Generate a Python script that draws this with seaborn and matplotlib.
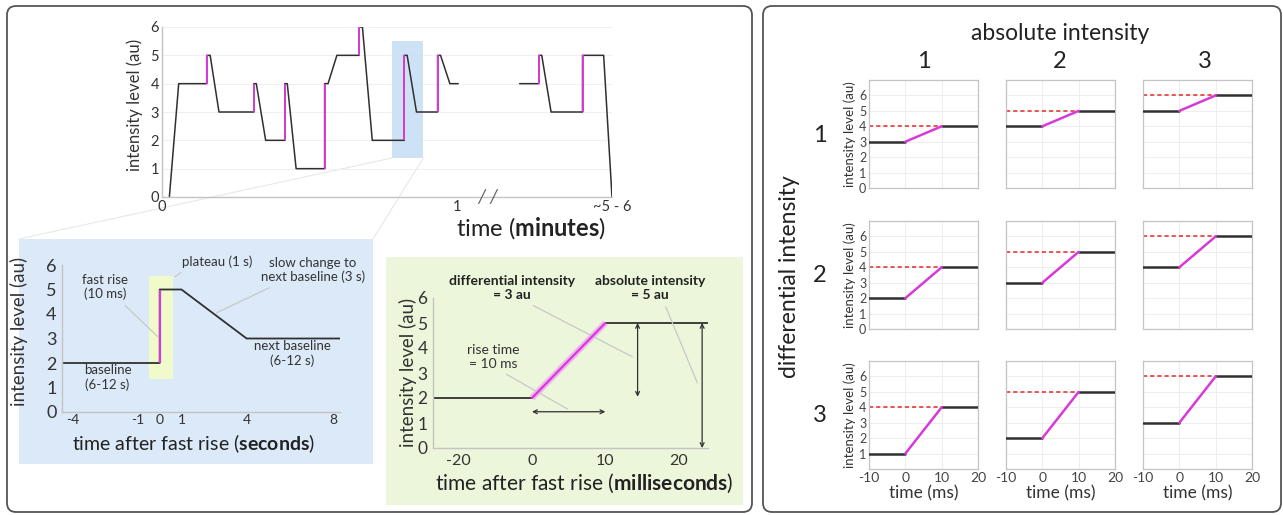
import numpy as np
import pandas as pd
import matplotlib
matplotlib.use("Agg")
import matplotlib.pyplot as plt
import seaborn as sns
from matplotlib.patches import FancyBboxPatch, Rectangle, ConnectionPatch

# ---------------- data ----------------
# overview trace, x in seconds (60 s = "1" minute), split at the axis break
trace1_t = [1.5, 3.4, 9.1, 9.1, 9.8, 11.6, 18.7, 18.7, 19.2, 21.1, 25.0, 25.0, 25.5, 27.3,
            33.1, 33.1, 33.8, 35.6, 40.1, 40.1, 40.8, 42.8, 49.3, 49.3, 49.9, 51.8,
            56.1, 56.1, 56.7, 58.6, 60.3]
trace1_y = [0, 4, 4, 5, 5, 3, 3, 4, 4, 2, 2, 4, 4, 1,
            1, 4, 4, 5, 5, 6, 6, 2, 2, 5, 5, 3,
            3, 5, 5, 4, 4]
trace2_t = [72.8, 76.7, 76.7, 77.3, 79.2, 85.6, 85.6, 89.9, 91.6]
trace2_y = [4, 4, 5, 5, 3, 3, 5, 5, 0]
rise_t = [9.1, 18.7, 25.0, 33.1, 40.1, 49.3, 56.1, 76.7, 85.6]
rise_from = [4, 3, 2, 1, 5, 2, 3, 4, 3]
rise_to = [5, 4, 4, 4, 6, 5, 5, 5, 5]
overview_ticks = [0, 60, 91.6]
overview_labels = ["0", "1", "~5 - 6"]
highlight_t = [46.9, 53.2]
highlight_y = [1.38, 5.5]

# one event, seconds
sec_t = [-4.5, 0, 0, 1, 4, 8.3]
sec_y = [2, 2, 5, 5, 3, 3]
sec_ticks = [-4, -1, 0, 1, 4, 8]
sec_rise_y = [2, 5]
sec_box_t = [-0.5, 0.6]
sec_box_y = [1.36, 5.55]

# one event, milliseconds
ms_t = [-27, 0, 10, 24]
ms_y = [2, 2, 5, 5]
ms_rise_t = [0, 10]
ms_rise_y = [2, 5]
ms_ticks = [-20, 0, 10, 20]

# grid of examples
absolute_levels = [4, 5, 6]
differential_levels = [1, 2, 3]
small_t = [-10, 0, 10, 20]

W, H = 1283, 515
BLACK = "#303030"
MAGENTA = "#d83ad8"
SPINE = "#c4c4c4"
LEAD = "#c8c8c8"

sns.set_theme(style="white")
plt.rcParams["font.family"] = ["Lato", "DejaVu Sans"]
plt.rcParams["mathtext.fontset"] = "custom"
plt.rcParams["mathtext.rm"] = "Lato"
plt.rcParams["mathtext.bf"] = "Lato:bold"
plt.rcParams["axes.unicode_minus"] = False

fig = plt.figure(figsize=(W / 100, H / 100), dpi=100)
fig.patch.set_facecolor("white")

# pixel-space background layer
bg = fig.add_axes([0, 0, 1, 1], zorder=0)
bg.set_xlim(0, W)
bg.set_ylim(H, 0)
bg.axis("off")
for x0, w in [(7, 745), (763, 518)]:
    bg.add_patch(FancyBboxPatch((x0, 6), w, 506, boxstyle="round,pad=0,rounding_size=9",
                                fc="white", ec="#555555", lw=1.3))
bg.add_patch(Rectangle((19, 239), 354, 225, fc="#dbe9f8", ec="none"))
bg.add_patch(Rectangle((386, 257), 357, 248, fc="#ecf6da", ec="none"))


def px_axes(left, top, right, bottom):
    ax = fig.add_axes([left / W, 1 - bottom / H, (right - left) / W, (bottom - top) / H], zorder=2)
    ax.patch.set_alpha(0)
    return ax


def style_open(ax, ysize, xsize, pad=3, xpad=None):
    for s in ["top", "right"]:
        ax.spines[s].set_visible(False)
    for s in ["left", "bottom"]:
        ax.spines[s].set_color(SPINE)
        ax.spines[s].set_linewidth(1.0)
    ax.tick_params(axis="y", length=0, pad=pad, labelsize=ysize, labelcolor="#333333")
    ax.tick_params(axis="x", length=0, pad=pad if xpad is None else xpad, labelsize=xsize, labelcolor="#333333")
    ax.set_xlabel("")
    ax.set_ylabel("")


# ---------------- overview ----------------
ax0 = px_axes(162, 27, 612, 197)
ax0.yaxis.grid(True, color="#f0f0f0", lw=0.8)
for tt, yy in [(trace1_t, trace1_y), (trace2_t, trace2_y)]:
    sns.lineplot(x=tt, y=yy, sort=False, estimator=None, color=BLACK, lw=1.1, ax=ax0)
ax0.vlines(rise_t, rise_from, rise_to, color=MAGENTA, lw=1.4, zorder=3)
ax0.fill_between(highlight_t, highlight_y[0], highlight_y[1], color="#c6ddf5", alpha=0.85, lw=0, zorder=1)
ax0.set_xlim(0, 91.6)
ax0.set_ylim(0, 6)
ax0.set_yticks(range(7))
ax0.set_xticks(overview_ticks)
ax0.set_xticklabels(overview_labels)
style_open(ax0, 10.5, 10.5, pad=2)
ax0.text(66.3, 0, "/ /", fontsize=14, color="#666666", ha="center", va="center", style="italic")
for hx, bx in [(highlight_t[0], 19), (highlight_t[1], 373)]:
    con = ConnectionPatch(xyA=(hx, highlight_y[0]), coordsA=ax0.transData,
                          xyB=(bx, 239), coordsB=bg.transData, color="#e8e8e8", lw=0.8)
    fig.add_artist(con)
bg.text(135, 105, "intensity level (au)", rotation=90, ha="center", va="center", fontsize=12, color="#333333")
bg.text(531, 228, r"time ($\mathbf{minutes}$)", ha="center", va="center", fontsize=17, color="#222222")

# ---------------- one event, seconds ----------------
ax1 = px_axes(62, 265, 340, 412)
ax1.fill_between(sec_box_t, sec_box_y[0], sec_box_y[1], color="#f0facb", lw=0, zorder=1)
sns.lineplot(x=sec_t, y=sec_y, sort=False, estimator=None, color=BLACK, lw=1.3, ax=ax1)
ax1.vlines(0, sec_rise_y[0], sec_rise_y[1], color=MAGENTA, lw=1.6, zorder=3)
ax1.set_xlim(-4.5, 8.3)
ax1.set_ylim(0, 6)
ax1.set_yticks(range(7))
ax1.set_xticks(sec_ticks)
style_open(ax1, 13, 10, pad=4, xpad=1.5)
lead = dict(arrowstyle="-", color=LEAD, lw=0.9)
ax1.annotate("fast rise\n(10 ms)", xy=(0, 3.0), xytext=(-2.5, 5.1), ha="center", va="center",
             fontsize=9.5, color="#333333", arrowprops=dict(lead, relpos=(0.75, 0.1)), annotation_clip=False)
ax1.annotate("plateau (1 s)", xy=(0.6, 5.45), xytext=(2.65, 6.15), ha="center", va="center",
             fontsize=9.5, color="#333333", arrowprops=dict(lead, relpos=(0.1, 0.1)), annotation_clip=False)
ax1.annotate("slow change to\nnext baseline (3 s)", xy=(2.5, 4.0), xytext=(7.05, 5.8), ha="center", va="center",
             fontsize=9.5, color="#333333", arrowprops=dict(lead, relpos=(0.2, 0.05)), annotation_clip=False)
ax1.text(-2.4, 1.4, "baseline\n(6-12 s)", ha="center", va="center", fontsize=9.5, color="#333333")
ax1.text(6.1, 2.4, "next baseline\n(6-12 s)", ha="center", va="center", fontsize=9.5, color="#333333")
bg.text(19, 331, "intensity level (au)", rotation=90, ha="center", va="center", fontsize=13.5, color="#333333")
bg.text(194, 444, r"time after fast rise ($\mathbf{seconds}$)", ha="center", va="center", fontsize=14, color="#222222")

# ---------------- one event, milliseconds ----------------
ax2 = px_axes(433, 298, 708, 448)
fwd = lambda x: np.where(np.asarray(x) < 0, np.asarray(x) / 2.0, np.asarray(x))
inv = lambda u: np.where(np.asarray(u) < 0, np.asarray(u) * 2.0, np.asarray(u))
ax2.set_xscale("function", functions=(fwd, inv))
sns.lineplot(x=ms_t, y=ms_y, sort=False, estimator=None, color=BLACK, lw=1.3, ax=ax2)
ax2.plot(ms_rise_t, ms_rise_y, color="#f0b4f0", lw=4.5, solid_capstyle="butt", zorder=3)
ax2.plot(ms_rise_t, ms_rise_y, color=MAGENTA, lw=1.6, zorder=4)
arr = dict(arrowstyle="<->", color=BLACK, lw=0.9, shrinkA=0, shrinkB=0, mutation_scale=7)
ax2.annotate("", xy=(ms_rise_t[1], 1.45), xytext=(ms_rise_t[0], 1.45), arrowprops=arr)
ax2.annotate("", xy=(14.4, ms_rise_y[1]), xytext=(14.4, 2.05), arrowprops=arr)
ax2.annotate("", xy=(23.2, ms_rise_y[1]), xytext=(23.2, 0), arrowprops=arr)
ax2.set_xlim(-27, 24)
ax2.set_ylim(0, 6)
ax2.set_yticks(range(7))
ax2.set_xticks(ms_ticks)
ax2.set_xticklabels([str(v) for v in ms_ticks])
style_open(ax2, 12.5, 11.5, pad=4)
ax2.annotate("differential intensity\n= 3 au", xy=(14.0, 3.6), xytext=(-5.5, 6.4), ha="center", va="center",
             fontsize=10, fontweight="bold", color="#222222", arrowprops=dict(lead, relpos=(0.6, 0.0)),
             annotation_clip=False)
ax2.annotate("absolute intensity\n= 5 au", xy=(22.7, 2.5), xytext=(16.1, 6.4), ha="center", va="center",
             fontsize=10, fontweight="bold", color="#222222", arrowprops=dict(lead, relpos=(0.62, 0.0)),
             annotation_clip=False)
ax2.annotate("rise time\n= 10 ms", xy=(5.2, 1.5), xytext=(-10.6, 3.65), ha="center", va="center",
             fontsize=10, color="#333333", arrowprops=dict(lead, relpos=(0.6, 0.0)), annotation_clip=False)
bg.text(408, 372, "intensity level (au)", rotation=90, ha="center", va="center", fontsize=13.5, color="#333333")
bg.text(584, 483, r"time after fast rise ($\mathbf{milliseconds}$)", ha="center", va="center", fontsize=15, color="#222222")

# ---------------- grid of examples ----------------
col_left = [869, 1006, 1143]
row_top = [80, 221, 361]
for r, diff in enumerate(differential_levels):
    for c, absl in enumerate(absolute_levels):
        base = absl - diff
        ax = px_axes(col_left[c], row_top[r], col_left[c] + 109, row_top[r] + 108)
        ax.grid(True, color="#eeeeee", lw=0.8)
        ax.plot(small_t[:3], [absl, absl, absl], color="#e23b3b", lw=1.2, ls=(0, (2.5, 1.8)), zorder=2)
        df = pd.DataFrame({"t": small_t, "y": [base, base, absl, absl]})
        sns.lineplot(data=df.iloc[:2], x="t", y="y", color=BLACK, lw=1.8, ax=ax, zorder=3)
        sns.lineplot(data=df.iloc[2:], x="t", y="y", color=BLACK, lw=1.8, ax=ax, zorder=3)
        sns.lineplot(data=df.iloc[1:3], x="t", y="y", color=MAGENTA, lw=1.8, ax=ax, zorder=4)
        ax.set_xlim(-10, 20)
        ax.set_ylim(0, 7)
        ax.set_xticks(small_t)
        ax.set_yticks(range(7))
        for s in ax.spines.values():
            s.set_color(SPINE)
            s.set_linewidth(0.9)
        ax.tick_params(axis="y", length=0, labelsize=9, labelcolor="#444444", pad=2)
        ax.tick_params(axis="x", length=0, labelsize=10, labelcolor="#444444", pad=2)
        ax.set_xlabel("")
        ax.set_ylabel("")
        if c == 0:
            ax.set_ylabel("intensity level (au)", fontsize=9.5, color="#333333", labelpad=2)
            if r == 2:
                ax.set_yticks(range(1, 7))
        else:
            ax.set_yticklabels([])
        if r == 2:
            ax.set_xlabel("time (ms)", fontsize=12.5, color="#333333", labelpad=1)
        else:
            ax.set_xticklabels([])

bg.text(1060, 33, "absolute intensity", ha="center", va="center", fontsize=16.5, color="#222222")
for cx, lab in zip([924, 1060, 1205], ["1", "2", "3"]):
    bg.text(cx, 62, lab, ha="center", va="center", fontsize=17, color="#222222")
for ry, lab in zip([135, 276, 415], ["1", "2", "3"]):
    bg.text(820, ry, lab, ha="center", va="center", fontsize=17, color="#222222")
bg.text(790, 277, "differential intensity", rotation=90, ha="center", va="center", fontsize=16.5, color="#222222")

fig.savefig("out.png", dpi=100, facecolor="white")
